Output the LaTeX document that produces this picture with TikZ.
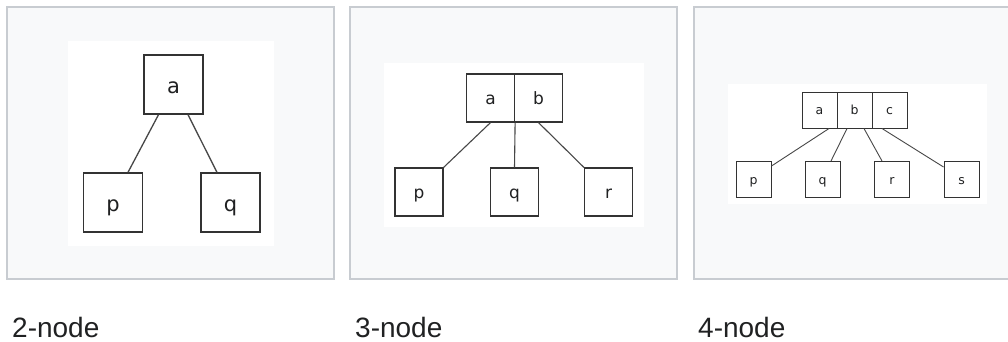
\documentclass[tikz,border=0pt]{standalone}
\usepackage{fontspec}
\setmainfont{Liberation Sans}
\newfontfamily\keyfont{DejaVu Sans}
\usetikzlibrary{calc}
\definecolor{panelfill}{HTML}{F8F9FA}
\definecolor{panelline}{HTML}{C8CCD1}
\definecolor{ink}{HTML}{333333}
\definecolor{captionink}{HTML}{202122}
\tikzset{
  panel/.style={fill=panelfill, draw=panelline, line width=2pt},
  canvas/.style={fill=white, draw=none},
  keybox/.style={draw=ink, fill=white, inner sep=0pt, anchor=center,
    text depth=0pt, text=captionink,
    font=\keyfont\fontsize{#1}{#1}\selectfont},
  bigkey/.style={keybox=21, text height=17pt, minimum size=59pt, line width=1.4pt},
  midkey/.style={keybox=17, text height=12.5pt, minimum width=48pt, minimum height=48pt, line width=1.2pt},
  smallkey/.style={keybox=12.5, text height=9pt, minimum width=35pt, minimum height=36pt, line width=1pt},
  link/.style={draw=ink!90, line width=#1},
  caption/.style={anchor=base west, inner sep=0pt, text=captionink,
    font=\fontsize{28}{28}\selectfont},
}
\begin{document}
\begin{tikzpicture}[x=1pt, y=-1pt]
\useasboundingbox (0,0) rectangle (1008,341);
\begin{scope}
\clip (0,0) rectangle (1008,341);

% ---------- 2-node ----------
\draw[panel] (7,7) rectangle (334,279);
\fill[canvas] (68,41) rectangle (274,246);
\node[bigkey] (a1) at (173.5,84.5) {a};
\node[bigkey] (p1) at (113,202.5) {p};
\node[bigkey] (q1) at (230.5,202.5) {q};
\draw[link=1.3pt] ([xshift=-15pt]a1.south) -- ([xshift=15pt]p1.north);
\draw[link=1.3pt] ([xshift=14.5pt]a1.south) -- ([xshift=-13.5pt]q1.north);
\node[caption] (c1) at (12,337) {2-node};

% ---------- 3-node ----------
\draw[panel] (350,7) rectangle (677,279);
\fill[canvas] (384,63) rectangle (644,227);
\node[midkey] (a2) at (490.5,98) {a};
\node[midkey] (b2) at (538.5,98) {b};
\node[midkey] (p2) at (419,192) {p};
\node[midkey] (q2) at (514.5,192) {q};
\node[midkey] (r2) at (608.5,192) {r};
\draw[link=1.1pt] (a2.south) -- (p2.north east);
\draw[link=1.1pt] (a2.south east) -- (q2.north);
\draw[link=1.1pt] (b2.south) -- (r2.north west);
\node[caption] (c2) at (355,337) {3-node};

% ---------- 4-node ----------
\draw[panel] (694,7) rectangle (1021,279);
\fill[canvas] (728,84) rectangle (987,204);
\node[smallkey] (a3) at (819.5,110) {a};
\node[smallkey] (b3) at (854.5,110) {b};
\node[smallkey] (c3) at (889.5,110) {c};
\node[smallkey] (p3) at (753.5,179.5) {p};
\node[smallkey] (q3) at (822.5,179.5) {q};
\node[smallkey] (r3) at (892,179.5) {r};
\node[smallkey] (s3) at (961.5,179.5) {s};
\draw[link=0.9pt] ([xshift=9.5pt]a3.south) -- ([yshift=-5pt]p3.north east);
\draw[link=0.9pt] ([xshift=-7.5pt]b3.south) -- ([xshift=8.5pt]q3.north);
\draw[link=0.9pt] ([xshift=9.5pt]b3.south) -- ([xshift=-10pt]r3.north);
\draw[link=0.9pt] ([xshift=-7.5pt]c3.south) -- ([yshift=-6pt]s3.north west);
\node[caption] (c3cap) at (698,337) {4-node};
\end{scope}
\end{tikzpicture}
\end{document}
